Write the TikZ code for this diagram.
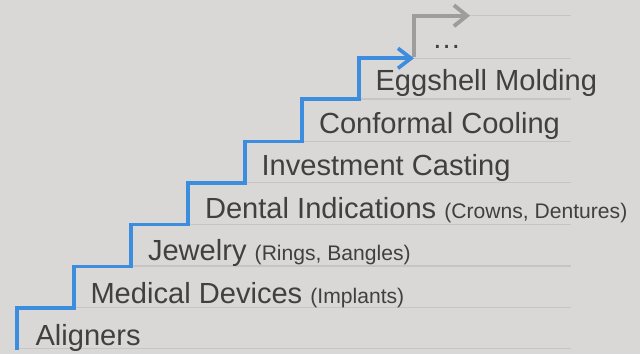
\documentclass[tikz,border=0pt]{standalone}
\usepackage{fontspec}
\setmainfont{Liberation Sans}
\usetikzlibrary{arrows.meta}
\definecolor{bgc}{HTML}{D9D8D6}
\definecolor{rulec}{HTML}{C6C5C3}
\definecolor{stairc}{HTML}{3C8DDE}
\definecolor{nextc}{HTML}{9D9D9D}
\definecolor{txtc}{HTML}{404040}
\begin{document}
\begin{tikzpicture}[x=1pt,y=-1pt,
  lbl/.style={anchor=base west,inner sep=0pt,outer sep=0pt,text=txtc,font=\fontsize{29.1}{30}\selectfont},
  rulel/.style={draw=rulec,line width=1.3pt},
  stairl/.style={draw=stairc,line width=3.7pt,-{Straight Barb[length=13pt,width=20pt]}},
  nextl/.style={draw=nextc,line width=3.9pt,-{Straight Barb[length=13pt,width=21pt]}}]
\newcommand{\smalltxt}[1]{{\fontsize{21.1}{22}\selectfont #1}}
\fill[bgc] (0,0) rectangle (640,354);
\useasboundingbox (0,0) rectangle (640,354);
% stair corners
\coordinate (b0) at (17,349.5);
\coordinate (s1a) at (17,308);   \coordinate (s1b) at (74,308);
\coordinate (s2a) at (74,266.5); \coordinate (s2b) at (131,266.5);
\coordinate (s3a) at (131,224.5);\coordinate (s3b) at (188,224.5);
\coordinate (s4a) at (188,183);  \coordinate (s4b) at (245,183);
\coordinate (s5a) at (245,141.5);\coordinate (s5b) at (302,141.5);
\coordinate (s6a) at (302,99.3); \coordinate (s6b) at (359,99.3);
\coordinate (s7a) at (359,58.3); \coordinate (s7b) at (414,58.3);
\coordinate (g0) at (414,57);
\coordinate (g1) at (414,15.7);  \coordinate (g2) at (470,15.7);
% rule line ends
\coordinate (r0a) at (19,348.7);  \coordinate (r0b) at (571,348.7);
\coordinate (r1a) at (74,307.7);  \coordinate (r1b) at (571,307.7);
\coordinate (r2a) at (131,266);   \coordinate (r2b) at (571,266);
\coordinate (r3a) at (188,224.3); \coordinate (r3b) at (571,224.3);
\coordinate (r4a) at (245,182.7); \coordinate (r4b) at (571,182.7);
\coordinate (r5a) at (302,141.3); \coordinate (r5b) at (571,141.3);
\coordinate (r6a) at (359,99);    \coordinate (r6b) at (571,99);
\coordinate (r7a) at (414,58.3);  \coordinate (r7b) at (571,58.3);
\coordinate (r8a) at (470,15.7);  \coordinate (r8b) at (571,15.7);
\foreach \i in {0,...,8} {\draw[rulel] (r\i a) -- (r\i b);}
% labels
\node[lbl] (t0) at (35.5,345.7) {Aligners};
\node[lbl] (t1) at (90.5,303.2) {Medical Devices \smalltxt{(Implants)}};
\node[lbl] (t2) at (148,260.7) {Jewelry \smalltxt{(Rings, Bangles)}};
\node[lbl] (t3) at (205,218.2) {Dental Indications \smalltxt{(Crowns, Dentures)}};
\node[lbl] (t4) at (261.5,175.7) {Investment Casting};
\node[lbl] (t5) at (319,133.2) {Conformal Cooling};
\node[lbl] (t6) at (375.5,90.7) {Eggshell Molding};
\node[lbl] (t7) at (432,48.2) {…};
% next step (grey)
\draw[nextl] (g0) -- (g1) -- (g2);
% staircase (blue)
\draw[stairl] (b0) -- (s1a) -- (s1b) -- (s2a) -- (s2b) -- (s3a) -- (s3b) -- (s4a) -- (s4b) -- (s5a) -- (s5b) -- (s6a) -- (s6b) -- (s7a) -- (s7b);
\end{tikzpicture}
\end{document}
